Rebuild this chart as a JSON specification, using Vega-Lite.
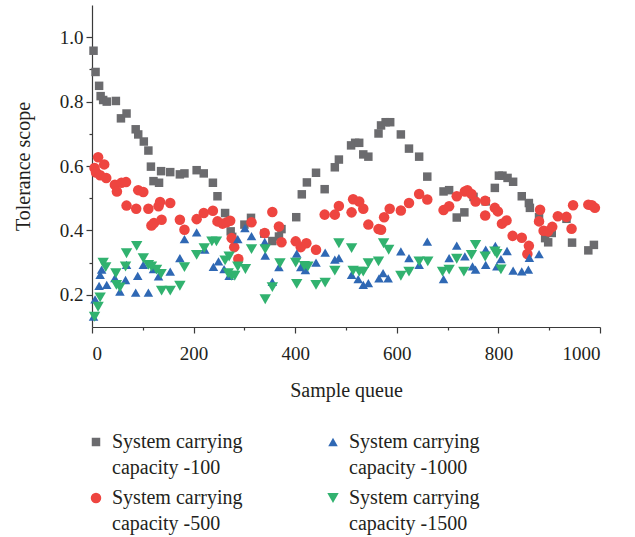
{
  "$schema": "https://vega.github.io/schema/vega-lite/v6.json",
  "width": 508,
  "height": 322,
  "autosize": "none",
  "padding": {"left": 92, "top": 5, "right": 35, "bottom": 210},
  "background": "white",
  "config": {
    "view": {"stroke": null},
    "font": "Liberation Serif",
    "style": {"guide-label": {"lineHeight": 26}},
    "axis": {
      "domainColor": "#3a3a3a",
      "tickColor": "#3a3a3a",
      "labelColor": "#231f20",
      "titleColor": "#231f20",
      "labelFont": "Liberation Serif",
      "titleFont": "Liberation Serif",
      "labelFontSize": 19,
      "titleFontSize": 20,
      "titleFontWeight": "normal",
      "grid": false,
      "domainWidth": 1.2,
      "tickWidth": 1.2
    },
    "legend": {
      "labelFont": "Liberation Serif",
      "labelFontSize": 20,
      "labelColor": "#231f20"
    }
  },
  "data": {
    "values": [
      {"s":"100","x":3,"y":0.958},{"s":"100","x":7,"y":0.892},{"s":"100","x":14,"y":0.849},{"s":"100","x":17,"y":0.817},{"s":"100","x":22,"y":0.805},{"s":"100","x":29,"y":0.8},{"s":"100","x":47,"y":0.802},{"s":"100","x":57,"y":0.748},{"s":"100","x":68,"y":0.763},{"s":"100","x":86,"y":0.714},{"s":"100","x":91,"y":0.698},{"s":"100","x":102,"y":0.676},{"s":"100","x":111,"y":0.648},{"s":"100","x":116,"y":0.598},{"s":"100","x":121,"y":0.553},{"s":"100","x":132,"y":0.548},{"s":"100","x":136,"y":0.584},{"s":"100","x":154,"y":0.581},{"s":"100","x":173,"y":0.574},{"s":"100","x":182,"y":0.577},{"s":"100","x":206,"y":0.587},{"s":"100","x":220,"y":0.577},{"s":"100","x":238,"y":0.548},{"s":"100","x":247,"y":0.506},{"s":"100","x":262,"y":0.454},{"s":"100","x":273,"y":0.397},{"s":"100","x":276,"y":0.38},{"s":"100","x":300,"y":0.418},{"s":"100","x":313,"y":0.439},{"s":"100","x":339,"y":0.39},{"s":"100","x":355,"y":0.367},{"s":"100","x":368,"y":0.381},{"s":"100","x":373,"y":0.404},{"s":"100","x":402,"y":0.441},{"s":"100","x":413,"y":0.512},{"s":"100","x":423,"y":0.549},{"s":"100","x":441,"y":0.579},{"s":"100","x":458,"y":0.528},{"s":"100","x":478,"y":0.596},{"s":"100","x":486,"y":0.62},{"s":"100","x":510,"y":0.664},{"s":"100","x":518,"y":0.672},{"s":"100","x":526,"y":0.672},{"s":"100","x":534,"y":0.636},{"s":"100","x":544,"y":0.629},{"s":"100","x":564,"y":0.701},{"s":"100","x":569,"y":0.726},{"s":"100","x":578,"y":0.736},{"s":"100","x":587,"y":0.736},{"s":"100","x":608,"y":0.698},{"s":"100","x":624,"y":0.654},{"s":"100","x":644,"y":0.629},{"s":"100","x":660,"y":0.567},{"s":"100","x":692,"y":0.521},{"s":"100","x":703,"y":0.525},{"s":"100","x":718,"y":0.44},{"s":"100","x":733,"y":0.456},{"s":"100","x":751,"y":0.504},{"s":"100","x":775,"y":0.49},{"s":"100","x":793,"y":0.532},{"s":"100","x":801,"y":0.57},{"s":"100","x":808,"y":0.57},{"s":"100","x":818,"y":0.563},{"s":"100","x":829,"y":0.551},{"s":"100","x":846,"y":0.506},{"s":"100","x":860,"y":0.485},{"s":"100","x":862,"y":0.47},{"s":"100","x":880,"y":0.441},{"s":"100","x":892,"y":0.376},{"s":"100","x":898,"y":0.363},{"s":"100","x":905,"y":0.392},{"s":"100","x":934,"y":0.436},{"s":"100","x":945,"y":0.362},{"s":"100","x":977,"y":0.338},{"s":"100","x":988,"y":0.355},
      {"s":"500","x":5,"y":0.594},{"s":"500","x":8,"y":0.58},{"s":"500","x":12,"y":0.627},{"s":"500","x":16,"y":0.571},{"s":"500","x":24,"y":0.605},{"s":"500","x":28,"y":0.563},{"s":"500","x":45,"y":0.542},{"s":"500","x":49,"y":0.521},{"s":"500","x":58,"y":0.548},{"s":"500","x":67,"y":0.55},{"s":"500","x":68,"y":0.477},{"s":"500","x":87,"y":0.467},{"s":"500","x":91,"y":0.525},{"s":"500","x":101,"y":0.519},{"s":"500","x":111,"y":0.467},{"s":"500","x":117,"y":0.415},{"s":"500","x":122,"y":0.423},{"s":"500","x":131,"y":0.475},{"s":"500","x":134,"y":0.488},{"s":"500","x":137,"y":0.433},{"s":"500","x":154,"y":0.485},{"s":"500","x":173,"y":0.433},{"s":"500","x":182,"y":0.402},{"s":"500","x":206,"y":0.435},{"s":"500","x":220,"y":0.454},{"s":"500","x":238,"y":0.461},{"s":"500","x":247,"y":0.428},{"s":"500","x":257,"y":0.421},{"s":"500","x":265,"y":0.425},{"s":"500","x":272,"y":0.43},{"s":"500","x":275,"y":0.376},{"s":"500","x":280,"y":0.348},{"s":"500","x":288,"y":0.311},{"s":"500","x":314,"y":0.425},{"s":"500","x":340,"y":0.392},{"s":"500","x":355,"y":0.457},{"s":"500","x":368,"y":0.412},{"s":"500","x":373,"y":0.363},{"s":"500","x":401,"y":0.366},{"s":"500","x":411,"y":0.348},{"s":"500","x":422,"y":0.36},{"s":"500","x":441,"y":0.34},{"s":"500","x":458,"y":0.449},{"s":"500","x":478,"y":0.449},{"s":"500","x":486,"y":0.476},{"s":"500","x":511,"y":0.456},{"s":"500","x":514,"y":0.497},{"s":"500","x":526,"y":0.49},{"s":"500","x":534,"y":0.467},{"s":"500","x":544,"y":0.418},{"s":"500","x":564,"y":0.404},{"s":"500","x":569,"y":0.402},{"s":"500","x":575,"y":0.441},{"s":"500","x":586,"y":0.467},{"s":"500","x":608,"y":0.462},{"s":"500","x":624,"y":0.485},{"s":"500","x":644,"y":0.513},{"s":"500","x":660,"y":0.496},{"s":"500","x":692,"y":0.463},{"s":"500","x":703,"y":0.475},{"s":"500","x":718,"y":0.506},{"s":"500","x":734,"y":0.521},{"s":"500","x":739,"y":0.525},{"s":"500","x":747,"y":0.513},{"s":"500","x":755,"y":0.49},{"s":"500","x":774,"y":0.492},{"s":"500","x":774,"y":0.446},{"s":"500","x":793,"y":0.47},{"s":"500","x":799,"y":0.459},{"s":"500","x":807,"y":0.421},{"s":"500","x":816,"y":0.431},{"s":"500","x":828,"y":0.383},{"s":"500","x":846,"y":0.377},{"s":"500","x":860,"y":0.352},{"s":"500","x":857,"y":0.327},{"s":"500","x":880,"y":0.428},{"s":"500","x":882,"y":0.464},{"s":"500","x":889,"y":0.399},{"s":"500","x":898,"y":0.397},{"s":"500","x":906,"y":0.411},{"s":"500","x":917,"y":0.444},{"s":"500","x":934,"y":0.442},{"s":"500","x":944,"y":0.405},{"s":"500","x":947,"y":0.478},{"s":"500","x":977,"y":0.48},{"s":"500","x":984,"y":0.478},{"s":"500","x":990,"y":0.47},
      {"s":"1000","x":3,"y":0.132},{"s":"1000","x":6,"y":0.186},{"s":"1000","x":14,"y":0.228},{"s":"1000","x":16,"y":0.262},{"s":"1000","x":19,"y":0.278},{"s":"1000","x":29,"y":0.231},{"s":"1000","x":45,"y":0.252},{"s":"1000","x":55,"y":0.21},{"s":"1000","x":66,"y":0.246},{"s":"1000","x":68,"y":0.293},{"s":"1000","x":86,"y":0.207},{"s":"1000","x":90,"y":0.259},{"s":"1000","x":101,"y":0.293},{"s":"1000","x":111,"y":0.207},{"s":"1000","x":121,"y":0.28},{"s":"1000","x":131,"y":0.257},{"s":"1000","x":154,"y":0.272},{"s":"1000","x":173,"y":0.314},{"s":"1000","x":182,"y":0.373},{"s":"1000","x":206,"y":0.394},{"s":"1000","x":222,"y":0.34},{"s":"1000","x":239,"y":0.287},{"s":"1000","x":249,"y":0.304},{"s":"1000","x":260,"y":0.28},{"s":"1000","x":270,"y":0.259},{"s":"1000","x":287,"y":0.373},{"s":"1000","x":301,"y":0.407},{"s":"1000","x":314,"y":0.382},{"s":"1000","x":340,"y":0.364},{"s":"1000","x":341,"y":0.322},{"s":"1000","x":355,"y":0.24},{"s":"1000","x":368,"y":0.286},{"s":"1000","x":403,"y":0.328},{"s":"1000","x":411,"y":0.286},{"s":"1000","x":420,"y":0.277},{"s":"1000","x":441,"y":0.3},{"s":"1000","x":459,"y":0.331},{"s":"1000","x":478,"y":0.309},{"s":"1000","x":486,"y":0.314},{"s":"1000","x":511,"y":0.262},{"s":"1000","x":524,"y":0.249},{"s":"1000","x":534,"y":0.231},{"s":"1000","x":544,"y":0.236},{"s":"1000","x":565,"y":0.251},{"s":"1000","x":573,"y":0.267},{"s":"1000","x":583,"y":0.251},{"s":"1000","x":608,"y":0.335},{"s":"1000","x":624,"y":0.314},{"s":"1000","x":644,"y":0.293},{"s":"1000","x":660,"y":0.365},{"s":"1000","x":692,"y":0.249},{"s":"1000","x":703,"y":0.314},{"s":"1000","x":718,"y":0.353},{"s":"1000","x":734,"y":0.319},{"s":"1000","x":749,"y":0.288},{"s":"1000","x":755,"y":0.278},{"s":"1000","x":775,"y":0.34},{"s":"1000","x":775,"y":0.293},{"s":"1000","x":794,"y":0.352},{"s":"1000","x":797,"y":0.288},{"s":"1000","x":805,"y":0.311},{"s":"1000","x":817,"y":0.336},{"s":"1000","x":829,"y":0.275},{"s":"1000","x":846,"y":0.273},{"s":"1000","x":859,"y":0.278},{"s":"1000","x":861,"y":0.315},{"s":"1000","x":880,"y":0.326},
      {"s":"1500","x":5,"y":0.132},{"s":"1500","x":12,"y":0.163},{"s":"1500","x":16,"y":0.192},{"s":"1500","x":22,"y":0.3},{"s":"1500","x":27,"y":0.286},{"s":"1500","x":47,"y":0.267},{"s":"1500","x":48,"y":0.231},{"s":"1500","x":55,"y":0.223},{"s":"1500","x":66,"y":0.288},{"s":"1500","x":68,"y":0.329},{"s":"1500","x":88,"y":0.352},{"s":"1500","x":101,"y":0.314},{"s":"1500","x":111,"y":0.293},{"s":"1500","x":117,"y":0.288},{"s":"1500","x":127,"y":0.278},{"s":"1500","x":136,"y":0.265},{"s":"1500","x":137,"y":0.213},{"s":"1500","x":154,"y":0.213},{"s":"1500","x":173,"y":0.228},{"s":"1500","x":182,"y":0.286},{"s":"1500","x":206,"y":0.324},{"s":"1500","x":221,"y":0.345},{"s":"1500","x":236,"y":0.366},{"s":"1500","x":245,"y":0.366},{"s":"1500","x":262,"y":0.307},{"s":"1500","x":268,"y":0.267},{"s":"1500","x":270,"y":0.319},{"s":"1500","x":275,"y":0.259},{"s":"1500","x":281,"y":0.259},{"s":"1500","x":287,"y":0.288},{"s":"1500","x":302,"y":0.28},{"s":"1500","x":314,"y":0.342},{"s":"1500","x":341,"y":0.342},{"s":"1500","x":341,"y":0.186},{"s":"1500","x":355,"y":0.224},{"s":"1500","x":370,"y":0.298},{"s":"1500","x":401,"y":0.3},{"s":"1500","x":403,"y":0.234},{"s":"1500","x":418,"y":0.29},{"s":"1500","x":425,"y":0.288},{"s":"1500","x":441,"y":0.231},{"s":"1500","x":459,"y":0.238},{"s":"1500","x":478,"y":0.275},{"s":"1500","x":486,"y":0.36},{"s":"1500","x":511,"y":0.345},{"s":"1500","x":514,"y":0.275},{"s":"1500","x":526,"y":0.272},{"s":"1500","x":534,"y":0.272},{"s":"1500","x":544,"y":0.298},{"s":"1500","x":564,"y":0.304},{"s":"1500","x":574,"y":0.36},{"s":"1500","x":584,"y":0.34},{"s":"1500","x":608,"y":0.259},{"s":"1500","x":624,"y":0.272},{"s":"1500","x":644,"y":0.304},{"s":"1500","x":661,"y":0.304},{"s":"1500","x":690,"y":0.272},{"s":"1500","x":703,"y":0.278},{"s":"1500","x":718,"y":0.312},{"s":"1500","x":732,"y":0.272},{"s":"1500","x":747,"y":0.324},{"s":"1500","x":755,"y":0.355},{"s":"1500","x":774,"y":0.319},{"s":"1500","x":793,"y":0.335},{"s":"1500","x":797,"y":0.327},{"s":"1500","x":805,"y":0.279}
    ]
  },
  "mark": {"type": "point", "filled": true, "opacity": 1},
  "encoding": {
    "x": {
      "field": "x", "type": "quantitative",
      "scale": {"domain": [0, 1000], "nice": false, "zero": false},
      "axis": {
        "title": "Sample queue",
        "labelFont": "Liberation Serif",
        "titleFont": "Liberation Serif",
        "values": [0,100,200,300,400,500,600,700,800,900,1000],
        "labelExpr": "datum.value % 200 == 0 ? format(datum.value, 'd') : ''",
        "tickSize": {"condition": {"test": "datum.value % 200 == 0", "value": 6}, "value": 3},
        "labelPadding": 11,
        "titlePadding": 17
      }
    },
    "y": {
      "field": "y", "type": "quantitative",
      "scale": {"domain": [0.1, 1.1], "nice": false, "zero": false},
      "axis": {
        "title": "Tolerance scope",
        "labelFont": "Liberation Serif",
        "titleFont": "Liberation Serif",
        "values": [0.2,0.3,0.4,0.5,0.6,0.7,0.8,0.9,1.0],
        "labelExpr": "round(datum.value*10) % 2 == 0 ? format(datum.value, '.1f') : ''",
        "tickSize": {"condition": {"test": "round(datum.value*10) % 2 == 0", "value": 6}, "value": 3},
        "labelPadding": 3,
        "titlePadding": 26
      }
    },
    "color": {
      "field": "s", "type": "nominal",
      "scale": {"domain": ["100","1000","500","1500"], "range": ["#6b6b6e","#2f68b4","#ee4540","#31b26f"]},
      "legend": {
        "title": null,
        "orient": "none",
        "legendX": -6,
        "legendY": 427,
        "direction": "horizontal",
        "columns": 2,
        "columnPadding": 80,
        "rowPadding": 10,
        "symbolSize": 160,
        "labelOffset": 6,
        "labelFont": "Liberation Serif",
        "labelFontSize": 20,
        "labelBaseline": "middle",
        "labelLimit": 300,
        "labelExpr": "split('System carrying|capacity -' + datum.label, '|')"
      }
    },
    "shape": {
      "field": "s", "type": "nominal",
      "scale": {"domain": ["100","1000","500","1500"], "range": ["square","triangle-up","circle","triangle-down"]}
    },
    "size": {
      "field": "s", "type": "nominal",
      "scale": {"domain": ["100","1000","500","1500"], "range": [72, 130, 105, 130]},
      "legend": null
    }
  }
}
